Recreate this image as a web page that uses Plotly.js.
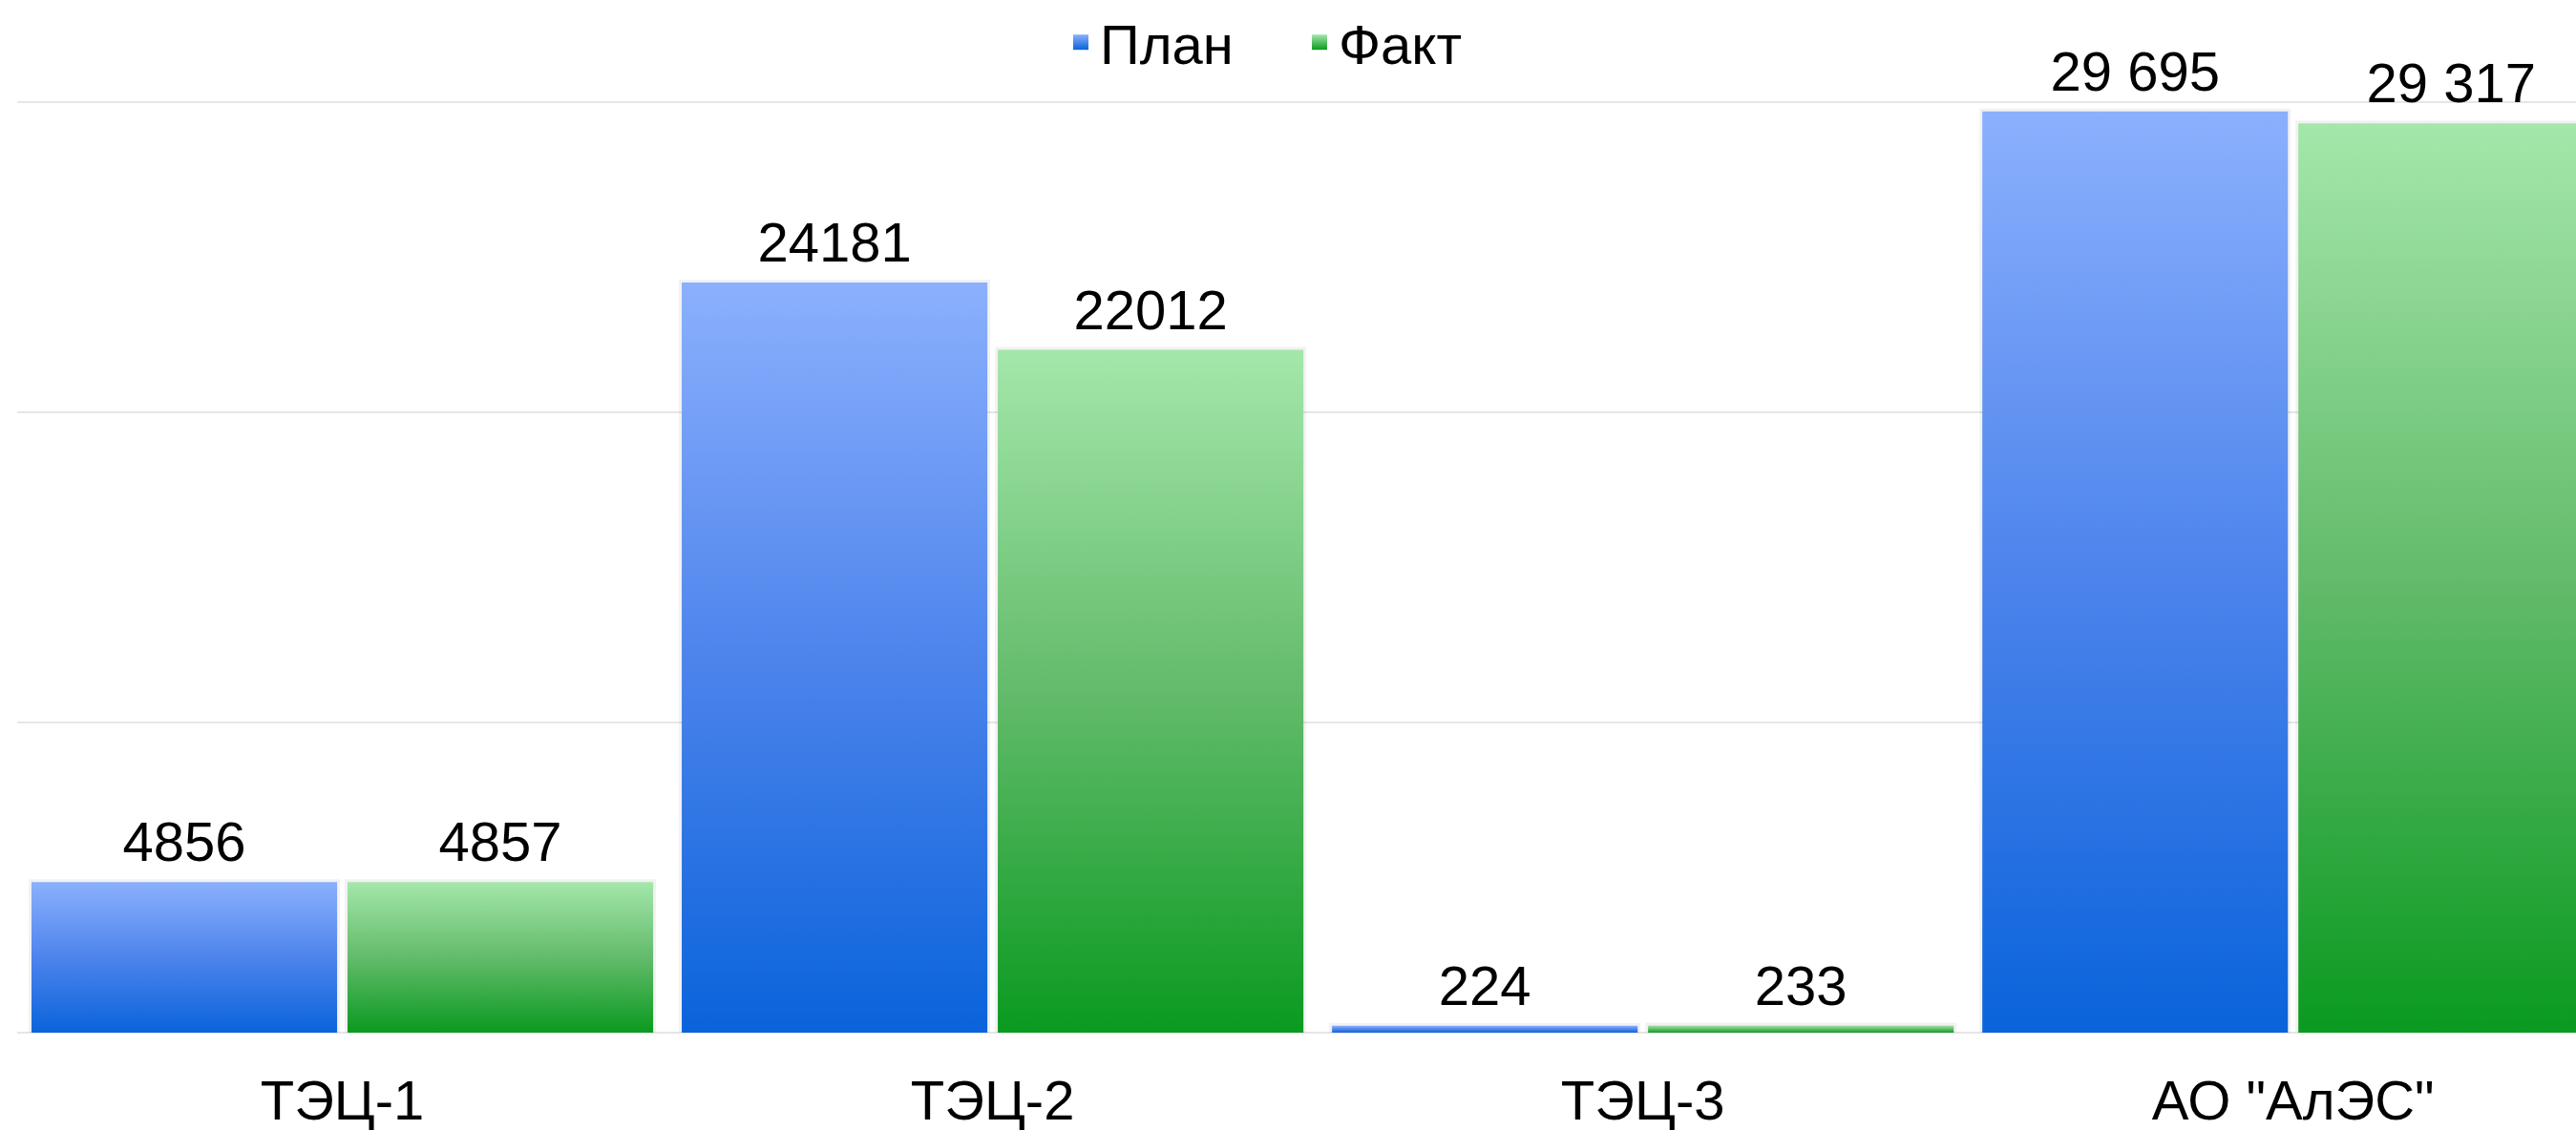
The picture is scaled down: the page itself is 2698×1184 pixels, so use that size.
<!DOCTYPE html>
<html>
<head>
<meta charset="utf-8">
<script src="https://cdn.plot.ly/plotly-3.0.1.min.js"></script>
<style>html,body{margin:0;padding:0;background:#fff;}#chart{width:2698px;height:1184px;}</style>
</head>
<body>
<div id="chart"></div>
<script>
// ---- data ----
const categories = ['ТЭЦ-1', 'ТЭЦ-2', 'ТЭЦ-3', 'АО "АлЭС"'];
const seriesNames = ['План', 'Факт'];
const planValues = [4856, 24181, 224, 29695];
const factValues = [4857, 22012, 233, 29317];
const planLabels = ['4856', '24181', '224', '29 695'];
const factLabels = ['4857', '22012', '233', '29 317'];
const yTicks = [0, 10000, 20000, 30000];

// ---- styles ----
const FONT = 'Arial, "Liberation Sans", sans-serif';
const FS = 58;
const barWidth = 0.47;
const offsets = [-0.243, 0.243];
const colorscales = [
  [[0, '#0a63db'], [0.5, '#4d84ec'], [1, '#8bb0fd']],
  [[0, '#0a9a20'], [0.5, '#63bb6b'], [1, '#a4e7aa']]
];
const topColors = ['#8bb0fd', '#a4e7aa'];
const bottomColors = ['#0a63db', '#0a9a20'];

const allValues = [planValues, factValues];
const allLabels = [planLabels, factLabels];
const traces = [];

// soft shadows behind the bars
allValues.forEach((vals, s) => {
  vals.forEach((v, i) => {
    const c = i + offsets[s];
    const x0 = c - barWidth / 2, x1 = c + barWidth / 2;
    traces.push({
      type: 'scatter', mode: 'lines', x: [x0, x0, x1, x1], y: [0, v, v, 0],
      line: {color: 'rgba(0,0,0,0.05)', width: 6}, hoverinfo: 'skip', showlegend: false
    });
  });
});

// bars (gradient-filled polygons built from the values)
allValues.forEach((vals, s) => {
  vals.forEach((v, i) => {
    const c = i + offsets[s];
    const x0 = c - barWidth / 2, x1 = c + barWidth / 2;
    traces.push({
      type: 'scatter', mode: 'lines', x: [x0, x0, x1, x1, x0], y: [0, v, v, 0, 0],
      fill: 'toself', line: {width: 0, color: 'rgba(0,0,0,0)'},
      fillgradient: {type: 'vertical', colorscale: colorscales[s]},
      name: seriesNames[s], legendgroup: seriesNames[s], showlegend: false,
      hoverinfo: 'text', text: categories[i] + ': ' + v, hoveron: 'fills'
    });
  });
});

// value labels
allValues.forEach((vals, s) => {
  traces.push({
    type: 'scatter', mode: 'markers+text',
    x: vals.map((v, i) => i + offsets[s]), y: vals,
    marker: {size: 10, opacity: 0, color: '#fff'},
    text: allLabels[s], textposition: 'top center',
    textfont: {family: FONT, size: FS, color: '#000'},
    cliponaxis: false, showlegend: false, hoverinfo: 'skip'
  });
});

// legend entries
seriesNames.forEach((n, s) => {
  traces.push({
    type: 'scatter', mode: 'markers', x: [null], y: [null], name: n, legendgroup: n,
    marker: {symbol: 'square', size: 16, color: topColors[s],
             gradient: {type: 'vertical', color: bottomColors[s]}},
    showlegend: true
  });
});

const layout = {
  width: 2698, height: 1184,
  margin: {l: 18, r: 0, t: 105, b: 100},
  paper_bgcolor: '#fff', plot_bgcolor: '#fff',
  font: {family: FONT, size: FS, color: '#000'},
  showlegend: true,
  legend: {orientation: 'h', xref: 'container', x: 1112 / 2698, xanchor: 'left',
           y: 1.0, yref: 'container', yanchor: 'top', entrywidth: 205, entrywidthmode: 'pixels',
           font: {family: FONT, size: FS, color: '#000'}, itemwidth: 30, traceorder: 'normal'},
  xaxis: {range: [-0.5, 3.435], tickmode: 'array', tickvals: categories.map((c, i) => i), ticktext: categories,
          showgrid: false, zeroline: false, showline: false, ticks: '', ticklabelstandoff: 30,
          tickfont: {family: FONT, size: FS, color: '#000'}, fixedrange: true},
  yaxis: {range: [-60, 30060], tickmode: 'array', tickvals: yTicks, showticklabels: false,
          showgrid: true, gridcolor: '#e6e6e6', gridwidth: 2, zeroline: false, fixedrange: true}
};

Plotly.newPlot('chart', traces, layout, {displayModeBar: false, staticPlot: true});
</script>
</body>
</html>
